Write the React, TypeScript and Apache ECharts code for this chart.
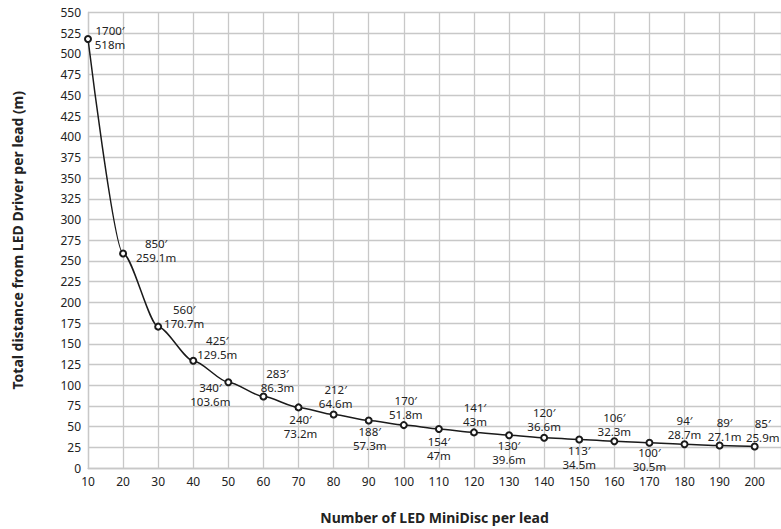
import React, { useEffect, useRef } from "react";
import * as echarts from "echarts";

const ledCounts = [10, 20, 30, 40, 50, 60, 70, 80, 90, 100, 110, 120, 130, 140, 150, 160, 170, 180, 190, 200];
const distanceMeters = [518, 259.1, 170.7, 129.5, 103.6, 86.3, 73.2, 64.6, 57.3, 51.8, 47, 43, 39.6, 36.6, 34.5, 32.3, 30.5, 28.7, 27.1, 25.9];
const distanceFeet = [1700, 850, 560, 425, 340, 283, 240, 212, 188, 170, 154, 141, 130, 120, 113, 106, 100, 94, 89, 85];

// label placement (style only)
const labelOffsets: number[][] = [
  [22, -2], [33, -3], [26, -10], [24, -13], [-18, 12], [14, -16.5], [2, 19], [2, -17.5], [1, 17.5], [2, -17.5],
  [0, 19], [1, -17.5], [0, 17.5], [0, -18], [0, 18], [0, -17], [0, 16.5], [0, -16.5], [5, -16.5], [8, -16.5],
];

const FONT = "Noto Sans";

export default function App() {
  const ref = useRef<HTMLDivElement>(null);
  useEffect(() => {
    document.body.style.margin = "0";
    if (!ref.current) return;
    const chart = echarts.init(ref.current, undefined, { renderer: "svg" });
    const data = ledCounts.map((x, i) => ({
      value: [x, distanceMeters[i]],
      label: {
        show: true,
        position: "inside",
        offset: labelOffsets[i],
        formatter: `${distanceFeet[i]}\u2032\n${distanceMeters[i]}m`,
      },
    }));
    chart.setOption({
      animation: false,
      backgroundColor: "#ffffff",
      textStyle: { fontFamily: FONT },
      grid: { left: 88, right: 0, top: 12.5, bottom: 58.3, containLabel: false },
      xAxis: {
        type: "value",
        min: 10,
        max: 207.5,
        interval: 10,
        name: "Number of LED MiniDisc per lead",
        nameLocation: "middle",
        nameGap: 42,
        nameTextStyle: { fontFamily: FONT, fontWeight: "bold", fontSize: 14, color: "#222" },
        axisLine: { show: true, lineStyle: { color: "#c8c8c8", width: 1.3 } },
        axisTick: { show: false },
        axisLabel: {
          fontFamily: FONT,
          fontSize: 12,
          color: "#222",
          margin: 7,
          showMaxLabel: false,
          formatter: (v: number) => (v % 10 === 0 && v <= 200 ? String(v) : ""),
        },
        splitLine: { show: true, lineStyle: { color: "#c8c8c8", width: 1.3 } },
      },
      yAxis: {
        type: "value",
        min: 0,
        max: 550,
        interval: 25,
        name: "Total distance from LED Driver per lead (m)",
        nameLocation: "middle",
        nameGap: 64,
        nameTextStyle: { fontFamily: FONT, fontWeight: "bold", fontSize: 14, color: "#222" },
        axisLine: { show: true, lineStyle: { color: "#c8c8c8", width: 1.3 } },
        axisTick: { show: false },
        axisLabel: { fontFamily: FONT, fontSize: 12, color: "#222", margin: 7 },
        splitLine: { show: true, lineStyle: { color: "#c8c8c8", width: 1.3 } },
      },
      series: [
        {
          type: "line",
          data,
          smooth: 0.25,
          smoothMonotone: "x",
          symbol: "emptyCircle",
          symbolSize: 6,
          lineStyle: { color: "#1a1a1a", width: 1.5 },
          itemStyle: { color: "#1a1a1a", borderWidth: 1.1 },
          label: {
            fontFamily: FONT,
            fontSize: 11.5,
            lineHeight: 14,
            color: "#222",
            align: "center",
            verticalAlign: "middle",
          },
          emphasis: { disabled: true },
        },
      ],
    });
    return () => chart.dispose();
  }, []);
  return <div ref={ref} style={{ width: 781, height: 529 }} />;
}
